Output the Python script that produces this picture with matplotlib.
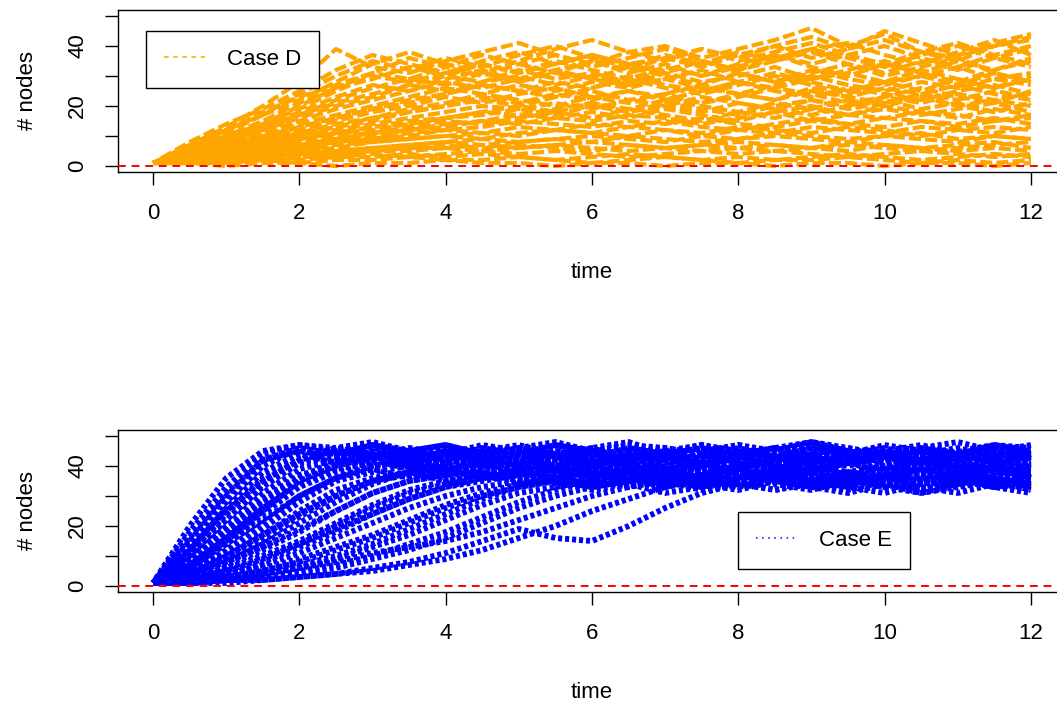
import matplotlib
matplotlib.use("Agg")
import matplotlib.pyplot as plt
import numpy as np
from matplotlib.ticker import FixedLocator, FixedFormatter

# time grid shared by all trajectories (every 0.5 time units)
time = [0, 0.5, 1, 1.5, 2, 2.5, 3, 3.5, 4, 4.5, 5, 5.5, 6, 6.5, 7, 7.5, 8, 8.5, 9, 9.5, 10, 10.5, 11, 11.5, 12]

# Case D trajectories (# nodes)
case_d = [
    [1, 7, 13, 20, 28, 39, 33, 31, 35, 38, 41, 37, 34, 38, 40, 36, 39, 42, 46, 40, 44, 38, 36, 41, 44],
    [1, 5, 11, 17, 24, 30, 35, 32, 36, 33, 37, 40, 36, 33, 37, 34, 38, 35, 39, 41, 37, 34, 38, 42, 37],
    [1, 6, 10, 15, 21, 26, 29, 33, 30, 34, 31, 35, 32, 29, 33, 30, 34, 37, 33, 30, 34, 31, 35, 32, 36],
    [1, 4, 9, 13, 18, 23, 27, 25, 29, 32, 28, 31, 29, 33, 30, 27, 31, 28, 32, 29, 27, 30, 33, 29, 31],
    [1, 4, 8, 12, 16, 20, 23, 27, 25, 28, 30, 27, 30, 27, 29, 32, 28, 26, 29, 31, 28, 32, 29, 26, 30],
    [1, 3, 7, 10, 14, 17, 20, 23, 26, 24, 27, 25, 28, 26, 29, 26, 24, 27, 30, 27, 25, 28, 26, 29, 27],
    [1, 3, 6, 9, 12, 15, 18, 20, 23, 21, 24, 26, 23, 25, 22, 25, 28, 25, 23, 26, 24, 22, 25, 27, 24],
    [1, 4, 6, 8, 11, 13, 16, 18, 20, 22, 20, 23, 25, 22, 24, 21, 23, 26, 24, 21, 23, 26, 23, 21, 25],
    [1, 2, 5, 7, 10, 12, 14, 16, 18, 20, 19, 21, 19, 22, 20, 23, 21, 19, 22, 20, 23, 21, 24, 22, 20],
    [1, 3, 5, 7, 9, 11, 13, 15, 16, 18, 17, 19, 21, 18, 20, 18, 21, 19, 17, 20, 22, 19, 21, 18, 21],
    [1, 2, 4, 6, 8, 10, 11, 13, 15, 14, 16, 18, 16, 19, 17, 15, 18, 16, 19, 17, 20, 18, 16, 19, 17],
    [1, 3, 4, 5, 7, 9, 10, 12, 13, 15, 14, 16, 15, 17, 16, 14, 16, 18, 15, 17, 16, 18, 17, 15, 16],
    [1, 2, 3, 5, 6, 8, 9, 10, 12, 11, 13, 12, 14, 13, 15, 13, 12, 14, 16, 14, 13, 15, 14, 16, 14],
    [1, 2, 3, 4, 5, 6, 8, 9, 10, 9, 11, 12, 11, 10, 12, 11, 13, 12, 11, 13, 12, 10, 12, 13, 12],
    [1, 1, 2, 3, 4, 5, 6, 7, 8, 9, 8, 9, 10, 9, 8, 10, 9, 11, 10, 9, 10, 11, 9, 10, 9],
    [1, 2, 2, 3, 4, 4, 5, 6, 6, 7, 6, 7, 8, 7, 6, 7, 8, 7, 6, 8, 7, 6, 7, 8, 6],
    [1, 1, 2, 2, 3, 3, 4, 3, 4, 5, 4, 5, 4, 3, 4, 5, 4, 5, 4, 3, 4, 5, 4, 3, 4],
    [1, 1, 1, 2, 1, 2, 2, 3, 2, 2, 3, 2, 1, 2, 3, 2, 1, 2, 2, 3, 2, 1, 2, 1, 2],
    [1, 1, 0, 1, 1, 0, 1, 1, 2, 1, 1, 0, 1, 1, 0, 1, 1, 0, 1, 1, 0, 1, 1, 0, 1],
    [1, 5, 9, 14, 19, 25, 30, 28, 31, 34, 31, 34, 37, 34, 31, 35, 32, 35, 38, 34, 31, 35, 32, 36, 33],
    [1, 4, 8, 12, 17, 21, 24, 27, 30, 28, 32, 29, 31, 28, 32, 35, 31, 28, 31, 34, 30, 33, 36, 31, 28],
    [1, 3, 6, 9, 13, 16, 19, 22, 24, 27, 25, 28, 26, 30, 27, 25, 28, 31, 28, 25, 28, 30, 27, 31, 28],
    [1, 2, 5, 8, 11, 14, 16, 19, 21, 24, 22, 20, 23, 21, 24, 27, 24, 22, 25, 23, 26, 24, 22, 25, 23],
    [1, 2, 4, 6, 9, 11, 13, 14, 16, 17, 19, 17, 20, 18, 21, 19, 17, 20, 22, 19, 21, 23, 20, 18, 21],
    [1, 8, 14, 19, 25, 32, 37, 34, 31, 35, 38, 34, 37, 34, 36, 33, 37, 40, 36, 39, 42, 38, 35, 40, 43],
    [1, 1, 2, 2, 3, 4, 5, 5, 6, 5, 6, 7, 6, 5, 6, 7, 6, 5, 6, 5, 7, 6, 5, 6, 5],
    [1, 6, 12, 18, 23, 27, 31, 36, 33, 30, 34, 37, 33, 36, 39, 35, 32, 36, 39, 36, 33, 37, 40, 36, 39],
    [1, 5, 9, 13, 17, 22, 26, 29, 27, 31, 28, 32, 35, 31, 34, 30, 33, 37, 34, 37, 40, 36, 33, 37, 34],
    [1, 3, 7, 11, 15, 19, 22, 25, 28, 26, 29, 32, 29, 27, 31, 28, 30, 33, 29, 32, 35, 31, 28, 32, 35],
    [1, 4, 7, 10, 13, 16, 19, 21, 24, 27, 25, 23, 26, 29, 26, 24, 27, 30, 27, 24, 28, 25, 29, 26, 29],
    [1, 2, 5, 8, 10, 13, 15, 18, 20, 23, 21, 24, 22, 25, 23, 21, 24, 22, 26, 23, 21, 24, 27, 24, 22],
    [1, 3, 5, 7, 9, 11, 12, 14, 16, 18, 20, 18, 21, 19, 22, 20, 18, 21, 19, 22, 20, 23, 20, 22, 24],
    [1, 2, 4, 6, 7, 9, 11, 12, 14, 15, 17, 16, 18, 16, 19, 17, 15, 18, 20, 17, 19, 17, 19, 21, 18],
    [1, 2, 3, 5, 6, 8, 9, 11, 12, 13, 15, 14, 13, 15, 14, 16, 14, 13, 15, 14, 16, 15, 13, 15, 17],
    [1, 2, 3, 4, 5, 7, 8, 9, 10, 11, 10, 12, 11, 13, 12, 10, 12, 11, 13, 12, 11, 13, 12, 11, 13],
    [1, 1, 2, 3, 4, 5, 6, 7, 8, 7, 8, 9, 8, 10, 9, 8, 9, 10, 9, 8, 10, 9, 8, 10, 9],
    [1, 7, 12, 17, 22, 28, 34, 38, 34, 31, 35, 39, 42, 38, 35, 39, 36, 40, 43, 39, 45, 41, 37, 40, 42],
    [1, 5, 10, 14, 20, 26, 31, 29, 33, 37, 34, 31, 35, 32, 36, 39, 35, 38, 41, 37, 34, 38, 41, 37, 40],
    [1, 1, 1, 2, 2, 3, 3, 4, 3, 4, 3, 2, 3, 4, 3, 2, 3, 2, 3, 4, 3, 2, 3, 4, 3],
    [1, 2, 3, 3, 4, 5, 5, 6, 7, 6, 7, 6, 5, 7, 6, 5, 6, 7, 6, 7, 6, 5, 6, 7, 8],
]

# Case E trajectories (# nodes)
case_e = [
    [1, 15, 30, 42, 45, 43, 46, 44, 42, 45, 47, 44, 41, 44, 46, 43, 45, 42, 44, 46, 43, 45, 42, 44, 43],
    [1, 12, 26, 38, 44, 41, 43, 45, 42, 40, 43, 45, 42, 44, 41, 43, 46, 43, 41, 44, 42, 45, 43, 40, 44],
    [1, 10, 22, 34, 41, 43, 40, 42, 44, 41, 39, 42, 44, 40, 42, 45, 41, 43, 40, 42, 44, 41, 43, 45, 42],
    [1, 8, 18, 29, 37, 40, 42, 39, 41, 43, 40, 38, 41, 43, 39, 41, 44, 40, 38, 41, 43, 40, 42, 39, 41],
    [1, 6, 14, 24, 33, 38, 40, 41, 38, 40, 42, 39, 37, 40, 42, 38, 40, 43, 39, 37, 40, 42, 38, 41, 40],
    [1, 5, 11, 19, 28, 35, 38, 40, 37, 39, 41, 38, 40, 37, 39, 41, 38, 36, 39, 41, 38, 40, 37, 39, 38],
    [1, 4, 9, 15, 23, 30, 35, 37, 39, 36, 38, 40, 37, 35, 38, 40, 37, 39, 36, 38, 40, 37, 35, 38, 37],
    [1, 3, 7, 12, 18, 25, 31, 35, 37, 38, 35, 37, 39, 36, 34, 37, 39, 36, 38, 35, 37, 39, 36, 34, 36],
    [1, 3, 5, 9, 14, 20, 26, 31, 34, 36, 37, 34, 36, 38, 35, 33, 36, 38, 35, 37, 34, 36, 38, 35, 37],
    [1, 2, 4, 7, 11, 16, 21, 26, 30, 33, 35, 36, 34, 36, 33, 35, 37, 34, 32, 35, 37, 34, 36, 33, 35],
    [1, 2, 3, 5, 8, 12, 16, 21, 26, 30, 33, 35, 33, 35, 37, 34, 32, 35, 33, 36, 34, 31, 34, 36, 33],
    [1, 1, 2, 4, 6, 9, 13, 17, 22, 27, 31, 33, 35, 33, 35, 32, 34, 36, 33, 31, 34, 32, 35, 33, 31],
    [1, 1, 2, 3, 4, 6, 9, 12, 16, 21, 26, 30, 33, 35, 33, 36, 34, 32, 35, 33, 31, 34, 36, 33, 34],
    [1, 1, 1, 2, 3, 4, 6, 8, 11, 15, 19, 16, 15, 20, 26, 31, 34, 36, 34, 32, 35, 33, 31, 34, 32],
    [1, 18, 33, 44, 47, 45, 43, 46, 44, 47, 45, 43, 46, 48, 44, 46, 43, 45, 47, 44, 46, 43, 45, 47, 45],
    [1, 14, 28, 40, 46, 44, 47, 45, 43, 46, 44, 47, 45, 42, 45, 47, 44, 46, 48, 45, 43, 46, 44, 47, 46],
    [1, 9, 20, 31, 39, 42, 44, 42, 45, 43, 41, 44, 46, 42, 44, 41, 43, 46, 43, 41, 44, 42, 45, 43, 44],
    [1, 7, 16, 26, 34, 39, 41, 43, 40, 42, 44, 41, 39, 42, 44, 40, 42, 39, 41, 44, 41, 43, 40, 42, 39],
    [1, 5, 12, 21, 30, 36, 39, 36, 38, 41, 38, 36, 39, 41, 37, 39, 42, 38, 40, 37, 39, 41, 38, 40, 42],
    [1, 4, 10, 17, 25, 32, 36, 38, 35, 37, 39, 36, 34, 37, 39, 36, 38, 35, 37, 34, 36, 39, 37, 34, 38],
    [1, 2, 6, 10, 15, 21, 27, 32, 35, 37, 34, 36, 33, 35, 38, 35, 33, 36, 34, 37, 35, 32, 35, 37, 34],
    [1, 1, 3, 5, 7, 10, 14, 19, 24, 29, 33, 35, 32, 34, 31, 33, 35, 32, 34, 36, 33, 31, 33, 35, 32],
    [1, 11, 24, 36, 43, 46, 44, 42, 45, 43, 46, 44, 42, 45, 43, 41, 44, 46, 43, 45, 42, 44, 46, 43, 45],
    [1, 6, 15, 25, 35, 40, 43, 41, 44, 42, 40, 43, 41, 44, 42, 40, 43, 45, 41, 43, 40, 42, 44, 41, 43],
    [1, 2, 5, 8, 13, 18, 24, 29, 33, 36, 38, 35, 37, 39, 36, 38, 35, 37, 40, 37, 35, 38, 36, 39, 36],
    [1, 3, 8, 14, 21, 28, 34, 38, 40, 37, 39, 42, 39, 41, 38, 40, 43, 40, 38, 41, 39, 42, 40, 37, 40],
    [1, 20, 36, 45, 47, 46, 48, 45, 47, 44, 46, 48, 45, 47, 46, 44, 47, 45, 48, 46, 44, 46, 48, 45, 47],
    [1, 16, 31, 42, 46, 44, 42, 45, 47, 44, 42, 45, 43, 46, 44, 47, 45, 43, 46, 44, 47, 45, 43, 46, 44],
    [1, 13, 25, 35, 42, 45, 43, 41, 44, 42, 45, 43, 40, 43, 45, 42, 44, 41, 43, 45, 42, 44, 41, 43, 45],
    [1, 9, 19, 28, 36, 41, 43, 40, 42, 45, 42, 40, 43, 41, 44, 42, 39, 42, 44, 41, 43, 45, 42, 40, 43],
    [1, 7, 14, 22, 30, 36, 40, 42, 39, 41, 43, 40, 42, 39, 41, 44, 41, 39, 42, 40, 43, 41, 39, 42, 40],
    [1, 5, 10, 17, 24, 30, 35, 38, 40, 38, 36, 39, 41, 38, 40, 37, 39, 42, 39, 37, 40, 38, 41, 39, 37],
    [1, 4, 8, 13, 19, 25, 31, 35, 37, 40, 38, 36, 38, 41, 38, 36, 39, 37, 40, 38, 36, 39, 37, 40, 38],
    [1, 3, 6, 10, 14, 19, 24, 29, 33, 35, 37, 39, 36, 38, 35, 37, 40, 37, 35, 38, 36, 34, 37, 39, 36],
    [1, 2, 4, 6, 9, 13, 17, 22, 27, 31, 34, 36, 38, 35, 37, 34, 36, 39, 36, 34, 37, 35, 38, 36, 33],
    [1, 1, 2, 3, 5, 7, 10, 14, 18, 23, 28, 32, 35, 37, 34, 36, 33, 35, 38, 35, 33, 36, 34, 37, 35],
    [1, 2, 3, 4, 6, 8, 11, 13, 15, 18, 22, 26, 30, 33, 36, 34, 37, 35, 33, 36, 38, 35, 33, 36, 34],
    [1, 1, 2, 2, 3, 4, 5, 7, 9, 12, 16, 20, 25, 29, 33, 36, 34, 37, 35, 33, 36, 38, 35, 33, 36],
    [1, 11, 22, 33, 41, 45, 47, 44, 46, 43, 45, 47, 44, 46, 43, 45, 47, 44, 46, 43, 45, 47, 44, 46, 44],
    [1, 8, 17, 27, 36, 42, 45, 43, 41, 44, 42, 45, 43, 41, 44, 46, 43, 41, 44, 42, 45, 43, 41, 44, 42],
]

x_ticks = [0, 2, 4, 6, 8, 10, 12]
y_ticks = [0, 10, 20, 30, 40, 50]
y_labels = ["0", "", "20", "", "40", ""]

W, H = 1057, 707
fig = plt.figure(figsize=(W / 100, H / 100), dpi=100)
plt.rcParams['font.family'] = ['Liberation Sans', 'DejaVu Sans']
FS = 16


def setup(ax):
    ax.set_xlim(-0.48, 12.48)
    ax.set_ylim(-2, 52)
    ax.xaxis.set_major_locator(FixedLocator(x_ticks))
    ax.yaxis.set_major_locator(FixedLocator(y_ticks))
    ax.yaxis.set_major_formatter(FixedFormatter(y_labels))
    ax.tick_params(axis='both', direction='out', length=9.5, width=1, labelsize=FS)
    ax.tick_params(axis='x', pad=13)
    ax.tick_params(axis='y', pad=12)
    for lab in ax.get_yticklabels():
        lab.set_rotation(90)
        lab.set_va('center')
    for s in ax.spines.values():
        s.set_linewidth(1)
    ax.set_xlabel("time", fontsize=FS, labelpad=27)
    ax.set_ylabel("# nodes", fontsize=FS, labelpad=21)
    ax.axhline(0, color='red', linestyle=(0, (4, 3)), linewidth=1.4, zorder=5)


def add_legend(ax, color, dashes, label, x0, y0):
    handle = plt.Line2D([], [], color=color, linestyle=(0, dashes), linewidth=1.1)
    leg = ax.legend(handles=[handle], labels=[label], loc='upper left',
                    bbox_to_anchor=(x0 / W, 1 - y0 / H), bbox_transform=fig.transFigure,
                    fancybox=False, framealpha=1, edgecolor='black', fontsize=FS,
                    handlelength=1.85, handletextpad=1.0, borderpad=0.8, borderaxespad=0)
    leg.get_frame().set_linewidth(1)


# top panel: Case D
ax1 = fig.add_axes([118 / W, 1 - 172 / H, 948 / W, 162 / H])
for i, traj in enumerate(case_d):
    ax1.plot(time, traj, color='#FFA500', linestyle=((i * 1.37) % 3.9, (2.9, 1.0)), linewidth=3.0)
setup(ax1)
add_legend(ax1, '#FFA500', (3, 3), "Case D", 146, 31)

# bottom panel: Case E
ax2 = fig.add_axes([118 / W, 1 - 592 / H, 948 / W, 162 / H])
for i, traj in enumerate(case_e):
    ax2.plot(time, traj, color='#0000FF', linestyle=((i * 0.47) % 1.2, (0.7, 0.5)), linewidth=4.2)
setup(ax2)
add_legend(ax2, '#0000FF', (1, 3), "Case E", 738, 512)

fig.savefig("out.png", dpi=100)
